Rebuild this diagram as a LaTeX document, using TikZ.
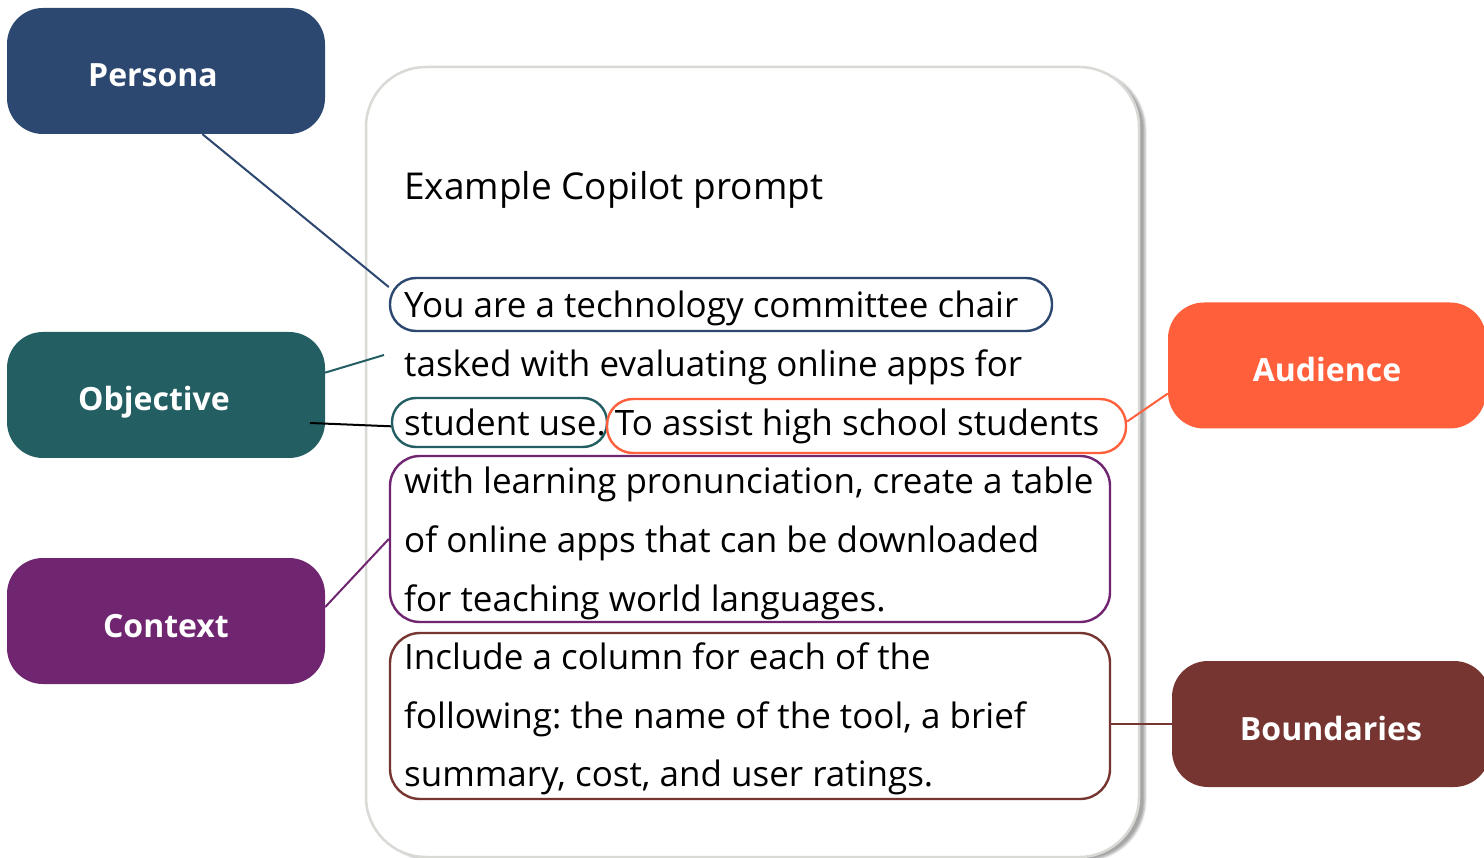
\documentclass[tikz,border=0pt]{standalone}
\usepackage{fontspec}
\setmainfont{Open Sans}
\usetikzlibrary{positioning,shadows.blur}

\definecolor{personablue}{HTML}{2C4770}
\definecolor{objteal}{HTML}{235E62}
\definecolor{ctxpurple}{HTML}{6F256F}
\definecolor{audorange}{HTML}{FF5F3B}
\definecolor{bndbrown}{HTML}{763531}
\definecolor{cardgray}{HTML}{D9D9D6}

\tikzset{
  tag/.style={rounded corners=36pt, minimum width=318pt, minimum height=126pt,
    inner sep=0pt, text height=32pt, text depth=0pt, text=white,
    font=\fontsize{32}{38}\selectfont\bfseries},
  hilite/.style={line width=2.4pt, rounded corners=26pt, inner sep=0pt},
  prompt/.style={anchor=base west, inner sep=0pt, font=\fontsize{35}{42}\selectfont\frenchspacing},
  link/.style={line width=2pt}
}

\begin{document}
\begin{tikzpicture}[x=1pt, y=-1pt]
  \useasboundingbox (0,0) rectangle (1484,858);

  % prompt card
  \draw[cardgray, line width=2.5pt, fill=white, rounded corners=60pt,
    blur shadow={shadow xshift=6pt, shadow yshift=-3pt, shadow opacity=35}]
    (366,67) rectangle (1139,857);

  \node[prompt, font=\fontsize{37}{44}\selectfont] (title) at (404,200) {Example Copilot prompt};
  \foreach \txt [count=\i from 0] in {
      {You are a technology committee chair},
      {tasked with evaluating online apps for},
      {student use. To assist high school students},
      {with learning pronunciation, create a table},
      {of online apps that can be downloaded},
      {for teaching world languages.},
      {Include a column for each of the},
      {following: the name of the tool, a brief},
      {summary, cost, and user ratings.}}
    \node[prompt] (line\i) at (404,318+58.6*\i) {\txt};

  % outlines round the parts of the prompt
  \node[hilite, draw=personablue, minimum width=662pt, minimum height=53pt] (you) at (721,304.5) {};
  \node[hilite, draw=objteal, minimum width=215pt, minimum height=49pt, rounded corners=24pt] (student) at (499.5,422.5) {};
  \node[hilite, draw=audorange, minimum width=519pt, minimum height=54pt] (assist) at (866.5,426) {};
  \node[hilite, draw=ctxpurple, minimum width=720pt, minimum height=166pt, rounded corners=30pt] (table) at (750,539) {};
  \node[hilite, draw=bndbrown, minimum width=720pt, minimum height=166pt, rounded corners=30pt] (column) at (750,716) {};

  % tags
  \node[tag, fill=personablue] (persona) at (166,71) {\hspace*{-26pt}Persona};
  \node[tag, fill=objteal] (objective) at (166,395) {\hspace*{-24pt}Objective};
  \node[tag, fill=ctxpurple] (context) at (166,621) {Context};
  \node[tag, fill=audorange] (audience) at (1327,365.5) {Audience};
  \node[tag, fill=bndbrown] (boundaries) at (1331,724) {Boundaries};

  \coordinate (objfree) at (384,355);
  \coordinate (objin) at (310,423);

  % connectors
  \draw[link, personablue] (persona.-60) -- (you.177);
  \draw[link, objteal] (objective.8) -- (objfree);
  \draw[link, black] (objin) -- (student.182);
  \draw[link, audorange] (assist.1) -- (audience.190);
  \draw[link, ctxpurple] (context.5) -- (table.west);
  \draw[link, bndbrown] (column.east |- boundaries.west) -- (boundaries.west);
\end{tikzpicture}
\end{document}
